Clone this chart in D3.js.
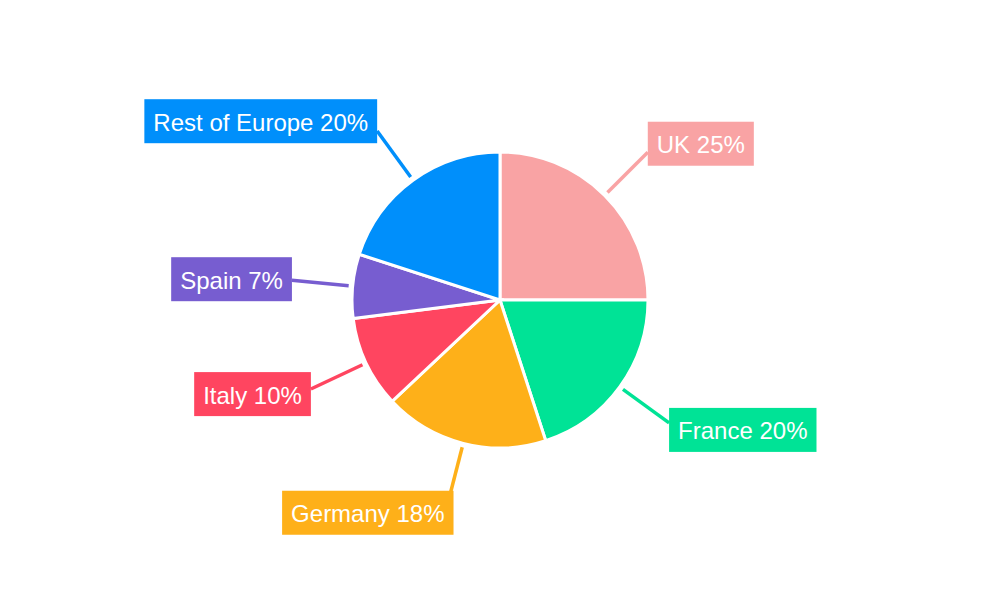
<!DOCTYPE html>
<html>
<head>
<meta charset="utf-8">
<script src="https://cdn.jsdelivr.net/npm/d3@7/dist/d3.min.js"></script>
<style>
  body { margin: 0; background: #fff; }
  svg text { font-family: "Liberation Sans", Arial, sans-serif; }
</style>
</head>
<body>
<div id="container"></div>
<script>
const regions = ['UK', 'France', 'Germany', 'Italy', 'Spain', 'Rest of Europe']
const shares = [25, 20, 18, 10, 7, 20]
const colors = ['#f9a3a4', '#00e396', '#feb019', '#ff4560', '#775dd0', '#008ffb']

const w = 1000
const h = 600
const cx = 500
const cy = 300
const r = 148

const data = regions.map((d, i) => ({ name: d, value: shares[i], color: colors[i] }))

const svg = d3.select('#container')
    .append('svg')
    .attr('width', w)
    .attr('height', h)

const g = svg.append('g').attr('transform', `translate(${cx},${cy})`)

const pie = d3.pie().value(d => d.value).sort(null)
const arc = d3.arc().innerRadius(0).outerRadius(r)
const arcs = pie(data)

g.selectAll('path')
    .data(arcs)
    .enter()
    .append('path')
    .attr('d', arc)
    .attr('fill', d => d.data.color)
    .attr('stroke', '#fff')
    .attr('stroke-width', 3)

// connectors + label boxes
arcs.forEach(d => {
    const mid = (d.startAngle + d.endAngle) / 2
    const steep = Math.abs(Math.cos(mid)) > 0.9
    const len = steep ? r + 51 : r + 61
    const p0 = [Math.sin(mid) * (r + 4), -Math.cos(mid) * (r + 4)]
    const p1 = [Math.sin(mid) * len, -Math.cos(mid) * len]

    g.append('line')
        .attr('x1', p0[0]).attr('y1', p0[1])
        .attr('x2', p1[0]).attr('y2', p1[1])
        .attr('stroke', d.data.color)
        .attr('stroke-width', 3.5)

    const lab = g.append('g')
    const rect = lab.append('rect').attr('fill', d.data.color)
    const txt = lab.append('text')
        .text(`${d.data.name} ${d.data.value}%`)
        .attr('fill', '#fff')
        .attr('font-size', 24)
        .attr('dominant-baseline', 'central')

    const tw = txt.node().getComputedTextLength()
    const pad = 9
    const bw = tw + pad * 2
    const bh = 44
    let bx, by
    if (steep) {
        bx = p1[0] + 3 - bw
        by = p1[1] - 2
    } else {
        bx = Math.sin(mid) > 0 ? p1[0] : p1[0] - bw
        by = p1[1] - 12 * Math.cos(mid) - bh / 2
    }
    rect.attr('x', bx).attr('y', by).attr('width', bw).attr('height', bh)
    txt.attr('x', bx + pad).attr('y', by + bh / 2 + 1)
})
</script>
</body>
</html>
